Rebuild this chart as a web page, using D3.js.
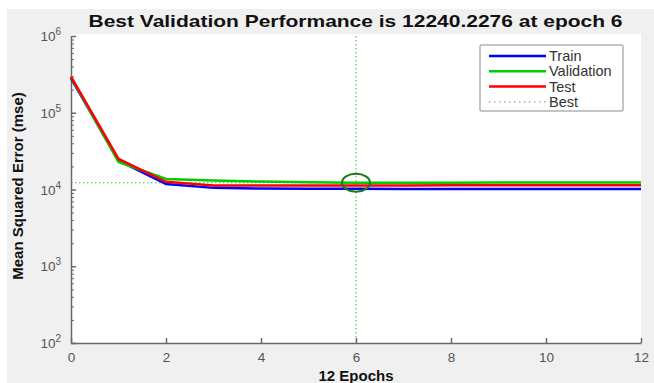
<!DOCTYPE html>
<html>
<head>
<meta charset="utf-8">
<script src="https://cdn.jsdelivr.net/npm/d3@7"></script>
<style>
  html, body { margin: 0; padding: 0; background: #fff; }
  svg { display: block; font-family: "Liberation Sans", Arial, sans-serif; }
</style>
</head>
<body>
<div id="chartContainer"></div>
<script>
// values
var epochs = [0, 1, 2, 3, 4, 5, 6, 7, 8, 9, 10, 11, 12]
var trainErr = [280000, 23800, 11800, 10500, 10300, 10250, 10200, 10180, 10160, 10150, 10140, 10130, 10120]
var valErr = [290000, 22800, 13700, 13100, 12700, 12450, 12240.2276, 12260, 12280, 12300, 12320, 12340, 12350]
var testErr = [295000, 25000, 12600, 11300, 11250, 11250, 11300, 11300, 11320, 11330, 11340, 11350, 11350]
var bestEpoch = 6
var bestVal = 12240.2276
var xTicks = [0, 2, 4, 6, 8, 10, 12]
var yMajor = [100, 1000, 10000, 100000, 1000000]
var seriesNames = ['Train', 'Validation', 'Test', 'Best']

var W = 654, H = 383
var margin = {left: 71, right: 13, top: 36, bottom: 40}

var svg = d3.select('#chartContainer').append('svg')
    .attr('width', W).attr('height', H)

// figure background
svg.append('rect').attr('x', 7).attr('y', 9).attr('width', W - 7).attr('height', H - 9)
    .attr('fill', '#f0f0f0')

var xScale = d3.scaleLinear().domain([0, 12]).range([margin.left, W - margin.right])
var yScale = d3.scaleLog().domain([100, 1000000]).range([H - margin.bottom, margin.top])

// plot area
svg.append('rect')
    .attr('x', xScale(0)).attr('y', yScale(1000000) - 2)
    .attr('width', xScale(12) - xScale(0)).attr('height', yScale(100) - yScale(1000000) + 2)
    .attr('fill', '#fff')

var axisColor = '#6a6a6a'

// x axis
var xAxis = svg.append('g')
    .attr('transform', 'translate(0,' + yScale(100) + ')')
    .call(d3.axisBottom(xScale).tickValues(xTicks).tickSizeInner(-5).tickSizeOuter(0).tickPadding(9))
xAxis.select('.domain').attr('stroke', axisColor).attr('stroke-width', 1.5)
xAxis.selectAll('.tick line').attr('stroke', axisColor).attr('stroke-width', 1.5)
xAxis.selectAll('.tick text').attr('fill', '#555').style('font-size', '13.5px')

// y axis minor ticks
var minorTicks = yScale.ticks().filter(function(d) { return yMajor.indexOf(d) < 0 })
var yMinor = svg.append('g')
    .attr('transform', 'translate(' + xScale(0) + ',0)')
    .call(d3.axisLeft(yScale).tickValues(minorTicks).tickSizeInner(-3).tickSizeOuter(0).tickFormat(''))
yMinor.select('.domain').remove()
yMinor.selectAll('.tick line').attr('stroke', axisColor).attr('stroke-width', 1)

// y axis major ticks
var yAxis = svg.append('g')
    .attr('transform', 'translate(' + xScale(0) + ',0)')
    .call(d3.axisLeft(yScale).tickValues(yMajor).tickSizeInner(-5).tickSizeOuter(0).tickFormat(''))
yAxis.select('.domain').attr('stroke', axisColor).attr('stroke-width', 1.5)
yAxis.selectAll('.tick line').attr('stroke', axisColor).attr('stroke-width', 1.5)

// y tick labels 10^n
var yLab = svg.append('g').selectAll('text')
    .data(yMajor).enter().append('text')
    .attr('x', xScale(0) - 10)
    .attr('y', function(d) { return yScale(d) + 5 })
    .attr('text-anchor', 'end')
    .attr('fill', '#555')
    .style('font-size', '13.5px')
yLab.append('tspan').text('10')
yLab.append('tspan').attr('dy', -6).style('font-size', '10px')
    .text(function(d) { return Math.round(Math.log10(d)) })

// best lines
var bestColor = '#33bb33'
svg.append('line')
    .attr('x1', xScale(bestEpoch)).attr('x2', xScale(bestEpoch))
    .attr('y1', yScale(1000000)).attr('y2', yScale(100))
    .attr('stroke', bestColor).attr('stroke-width', 1).attr('stroke-dasharray', '1.5,2.5')
svg.append('line')
    .attr('x1', xScale(0)).attr('x2', xScale(bestEpoch))
    .attr('y1', yScale(bestVal)).attr('y2', yScale(bestVal))
    .attr('stroke', bestColor).attr('stroke-width', 1).attr('stroke-dasharray', '1.5,2.5')

var line = d3.line()
    .x(function(d, i) { return xScale(epochs[i]) })
    .y(function(d) { return yScale(d) })

var series = [
    {name: 'Train', values: trainErr, color: '#0000ff'},
    {name: 'Validation', values: valErr, color: '#00cc00'},
    {name: 'Test', values: testErr, color: '#ff0000'}
]

svg.selectAll('.series')
    .data(series)
    .enter()
    .append('path')
    .attr('class', 'series')
    .attr('d', function(d) { return line(d.values) })
    .attr('fill', 'none')
    .attr('stroke', function(d) { return d.color })
    .attr('stroke-width', 2.5)

// best circle
svg.append('ellipse')
    .attr('cx', xScale(bestEpoch)).attr('cy', yScale(bestVal))
    .attr('rx', 14).attr('ry', 9)
    .attr('fill', 'none').attr('stroke', '#1a7a1a').attr('stroke-width', 2)

// legend
var legend = svg.append('g').attr('transform', 'translate(480,45)')
legend.append('rect').attr('width', 143).attr('height', 66).attr('rx', 1)
    .attr('fill', '#fff').attr('stroke', '#8a8a8a').attr('stroke-width', 1)
var legendItems = series.concat([{name: 'Best', color: bestColor, dotted: true}])
legendItems.forEach(function(d, i) {
    var yy = 11 + i * 15.3
    legend.append('line')
        .attr('x1', 9).attr('x2', 66).attr('y1', yy).attr('y2', yy)
        .attr('stroke', d.color)
        .attr('stroke-width', d.dotted ? 1 : 2.5)
        .attr('stroke-dasharray', d.dotted ? '1.5,3.5' : null)
    legend.append('text')
        .attr('x', 69).attr('y', yy + 5)
        .attr('fill', '#333')
        .style('font-size', '14.5px')
        .text(seriesNames[i])
})

// title and axis labels
svg.append('text')
    .attr('x', 355.5).attr('y', 27)
    .attr('text-anchor', 'middle')
    .style('font-size', '16.5px').style('font-weight', 'bold')
    .attr('textLength', 534).attr('lengthAdjust', 'spacingAndGlyphs')
    .attr('fill', '#111')
    .text('Best Validation Performance is 12240.2276 at epoch 6')

svg.append('text')
    .attr('x', (xScale(0) + xScale(12)) / 2).attr('y', 381)
    .attr('text-anchor', 'middle')
    .style('font-size', '15px').style('font-weight', 'bold')
    .attr('fill', '#111')
    .text('12 Epochs')

svg.append('text')
    .attr('transform', 'translate(23,186) rotate(-90)')
    .attr('text-anchor', 'middle')
    .style('font-size', '15px').style('font-weight', 'bold')
    .attr('fill', '#111')
    .text('Mean Squared Error  (mse)')
</script>
</body>
</html>
